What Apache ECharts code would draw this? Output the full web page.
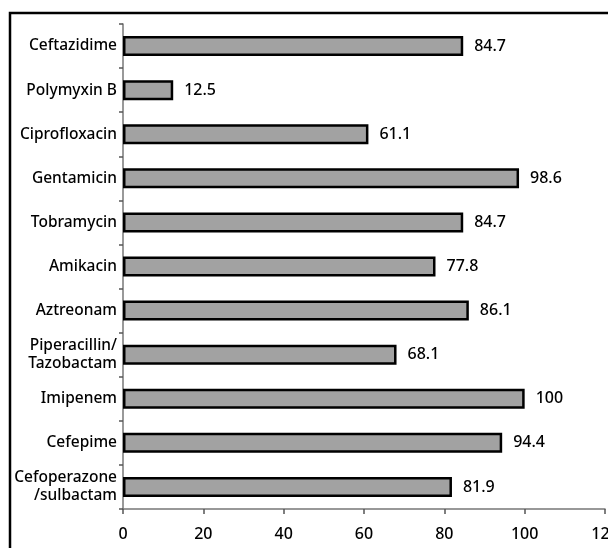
<!DOCTYPE html>
<html>
<head>
<meta charset="utf-8">
<script src="https://cdn.jsdelivr.net/npm/echarts@6/dist/echarts.min.js"></script>
<style>
  html, body { margin: 0; padding: 0; background: #fff; }
  #chart { width: 608px; height: 548px; }
</style>
</head>
<body>
<div id="chart"></div>
<script>
// drug names, top to bottom
var drugs = ['Ceftazidime', 'Polymyxin B', 'Ciprofloxacin', 'Gentamicin', 'Tobramycin', 'Amikacin',
  'Aztreonam', 'Piperacillin/\nTazobactam', 'Imipenem', 'Cefepime', 'Cefoperazone\n/sulbactam'];
// percentage values
var rates = [84.7, 12.5, 61.1, 98.6, 84.7, 77.8, 86.1, 68.1, 100, 94.4, 81.9];
var xTicks = [0, 20, 40, 60, 80, 100, 120];

var chart = echarts.init(document.getElementById('chart'));
var option = {
  animation: false,
  textStyle: { fontFamily: 'Noto Sans' },
  graphic: [{
    type: 'polyline',
    silent: true,
    shape: { points: [[10, 560], [10, 13], [620, 13]] },
    style: { stroke: '#000', lineWidth: 2.5, fill: null }
  }],
  grid: { left: 123, right: 3, top: 24, bottom: 39, outerBoundsMode: 'none' },
  xAxis: {
    type: 'value',
    min: xTicks[0],
    max: xTicks[xTicks.length - 1],
    interval: 20,
    splitLine: { show: false },
    axisLine: { show: true, lineStyle: { color: '#777', width: 1.5 } },
    axisTick: { show: true, length: 5, lineStyle: { color: '#555', width: 1.5 } },
    axisLabel: { color: '#000', fontSize: 16, fontWeight: 500, margin: 17 }
  },
  yAxis: {
    type: 'category',
    inverse: true,
    data: drugs,
    axisLine: { show: true, lineStyle: { color: '#777', width: 1.5 } },
    axisTick: { show: true, length: 4, lineStyle: { color: '#555', width: 1.5 } },
    axisLabel: { color: '#000', fontSize: 15.5, fontWeight: 500, margin: 6, lineHeight: 18, align: 'right' }
  },
  series: [{
    type: 'bar',
    data: rates,
    barWidth: 20,
    itemStyle: { color: '#a2a2a2', borderColor: '#000', borderWidth: 2.5 },
    label: {
      show: true,
      position: 'right',
      distance: 11,
      color: '#000',
      fontSize: 16,
      fontWeight: 500,
      formatter: function (p) { return p.value === 100 ? '100' : p.value.toFixed(1); }
    }
  }]
};
chart.setOption(option);
</script>
</body>
</html>
